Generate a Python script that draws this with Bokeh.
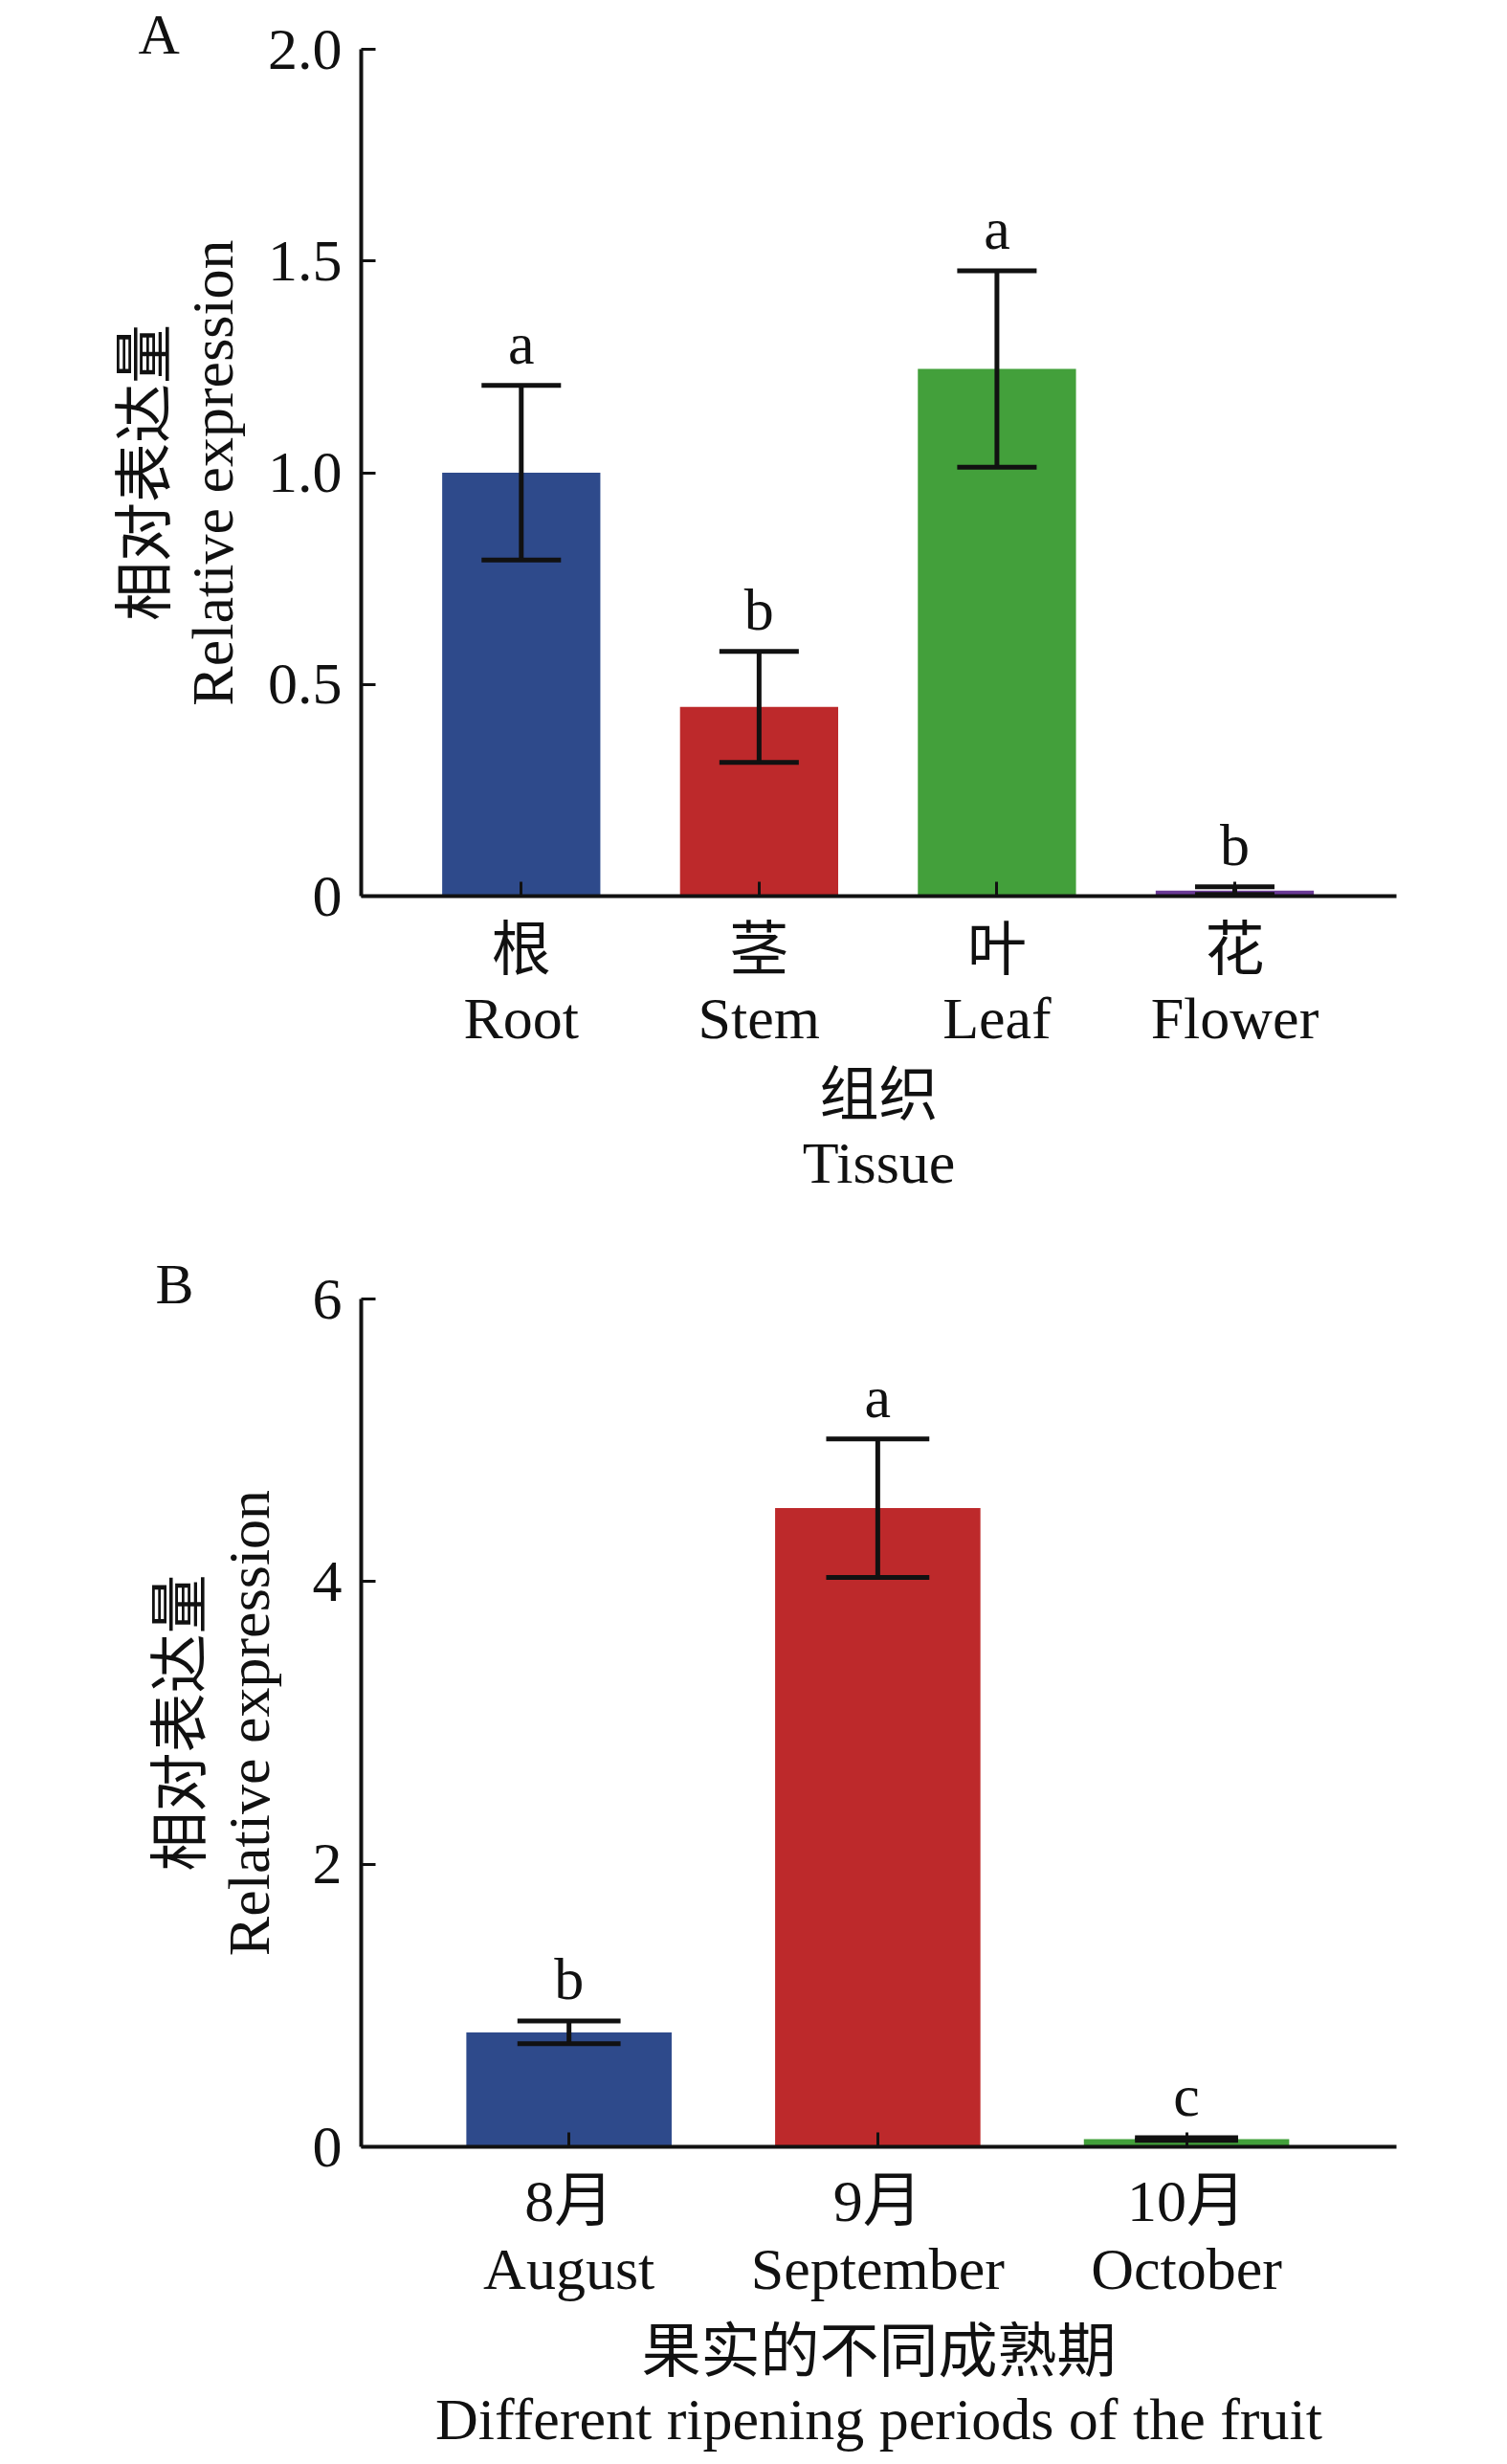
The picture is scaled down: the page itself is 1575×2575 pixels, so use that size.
from bokeh.plotting import figure
from bokeh.layouts import column
from bokeh.models import Range1d, FixedTicker, Title, ColumnDataSource
from bokeh.core.properties import value
from bokeh.embed import file_html
from bokeh.resources import INLINE

FONT = "Liberation Serif, Noto Sans CJK SC"

# ---- Panel A data: tissues ----
tissue_cn = ["根", "茎", "叶", "花"]
tissue_en = ["Root", "Stem", "Leaf", "Flower"]
tissue_mean = [1.00, 0.447, 1.245, 0.013]
tissue_err = [0.206, 0.131, 0.232, 0.009]
tissue_sig = ["a", "b", "a", "b"]
tissue_colors = ["#2e4a8b", "#bd292b", "#43a03b", "#6b3a96"]
tissue_yticks = [0, 0.5, 1.0, 1.5, 2.0]
tissue_ytick_labels = ["0", "0.5", "1.0", "1.5", "2.0"]
tissue_xlabel = "组织\nTissue"

# ---- Panel B data: ripening months ----
month_cn = ["8月", "9月", "10月"]
month_en = ["August", "September", "October"]
month_mean = [0.81, 4.52, 0.055]
month_err = [0.08, 0.49, 0.01]
month_sig = ["b", "a", "c"]
month_colors = ["#2e4a8b", "#bd292b", "#43a03b"]
month_yticks = [0, 2, 4, 6]
month_ytick_labels = ["0", "2", "4", "6"]
month_xlabel = "果实的不同成熟期\nDifferent ripening periods of the fruit"

ylabel = "相对表达量\nRelative expression"


def make_panel(cn, en, mean, err, sig, colors, yticks, ytick_labels, xlabel,
               letter, letter_px, border_left, border_top, frame_h, border_bottom,
               ylabel_standoff, xlabel_standoff):
    n = len(cn)
    xs = list(range(n))
    ymin, ymax = yticks[0], yticks[-1]
    px_per_unit = frame_h / (ymax - ymin)
    sig_pad = 44 / px_per_unit
    upper = [m + e for m, e in zip(mean, err)]
    lower = [m - e for m, e in zip(mean, err)]
    cap = 0.167
    src = ColumnDataSource(dict(
        x=xs, mean=mean, color=colors, upper=upper, lower=lower, sig=sig,
        sig_y=[u + sig_pad for u in upper],
        cl=[v - cap for v in xs], cr=[v + cap for v in xs],
    ))
    x0, x1 = -0.673, n - 1 + 0.68
    p = figure(frame_width=1082, frame_height=frame_h,
               min_border_left=border_left, min_border_right=100,
               min_border_top=border_top, min_border_bottom=border_bottom,
               x_range=Range1d(x0, x1), y_range=Range1d(ymin, ymax),
               output_backend="svg", toolbar_location=None)
    p.outline_line_color = None
    p.xgrid.visible = False
    p.ygrid.visible = False
    p.background_fill_color = "white"

    p.vbar(x="x", top="mean", width=0.665, fill_color="color",
           line_color=None, source=src)
    for a, b, c, d in (("x", "lower", "x", "upper"), ("cl", "upper", "cr", "upper"),
                       ("cl", "lower", "cr", "lower")):
        p.segment(x0=a, y0=b, x1=c, y1=d, line_color="#111111",
                  line_width=5, source=src)
    p.text(x="x", y="sig_y", text="sig", text_align="center",
           text_baseline="alphabetic",
           text_font=value(FONT), text_font_size="62px", text_color="#111111",
           source=src)

    for ax in (p.xaxis[0], p.yaxis[0]):
        ax.axis_line_width = 4
        ax.axis_line_color = "#111111"
        ax.major_tick_line_width = 3
        ax.major_tick_line_color = "#111111"
        ax.major_tick_in = 15
        ax.major_tick_out = 0
        ax.minor_tick_line_color = None
        ax.major_label_text_font = FONT
        ax.major_label_text_font_size = "62px"
        ax.major_label_text_color = "#111111"
        ax.major_label_text_line_height = 1.05
        ax.axis_label_text_font = FONT
        ax.axis_label_text_font_size = "62px"
        ax.axis_label_text_font_style = "normal"
        ax.axis_label_text_color = "#111111"
        ax.axis_label_text_line_height = 1.03

    p.xaxis.ticker = FixedTicker(ticks=xs)
    p.xaxis.major_label_overrides = {i: f"{cn[i]}\n{en[i]}" for i in xs}
    p.xaxis.major_label_standoff = 22
    p.xaxis.axis_label = xlabel
    p.xaxis.axis_label_standoff = xlabel_standoff

    p.yaxis.ticker = FixedTicker(ticks=yticks)
    p.yaxis.major_label_overrides = {t: l for t, l in zip(yticks, ytick_labels)}
    p.yaxis.major_label_standoff = 20
    p.yaxis.axis_label = ylabel
    p.yaxis.axis_label_standoff = ylabel_standoff

    # panel letter as a left-aligned title shifted into the left margin
    p.add_layout(Title(text=letter, align="left", offset=letter_px - border_left,
                       standoff=-34, text_font=FONT, text_font_size="60px",
                       text_font_style="normal", text_color="#111111"), "above")
    return p


pa = make_panel(tissue_cn, tissue_en, tissue_mean, tissue_err, tissue_sig,
                tissue_colors, tissue_yticks, tissue_ytick_labels, tissue_xlabel,
                "A", 143, 376, 51, 885, 344, 21, 10)
pb = make_panel(month_cn, month_en, month_mean, month_err, month_sig,
                month_colors, month_yticks, month_ytick_labels, month_xlabel,
                "B", 162, 377, 77, 886, 322, 30, 16)

layout = column(pa, pb, spacing=0)
open("out.html", "w").write(file_html(layout, INLINE))
